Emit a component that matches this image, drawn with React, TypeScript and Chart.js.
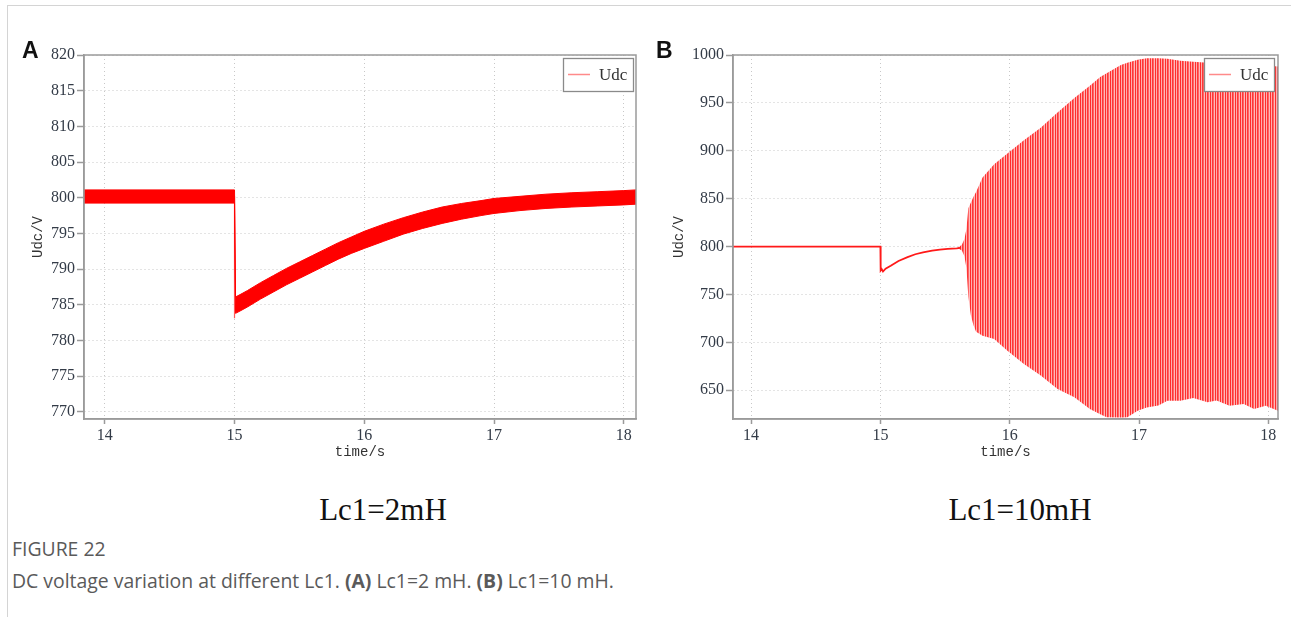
import React, { useEffect, useRef } from "react";
import { Chart, registerables } from "chart.js";

Chart.register(...registerables);

// ---------- shared ----------
const SERIES_LABEL = "Udc";
const X_TITLE = "time/s";
const Y_TITLE = "Udc/V";
const X_RANGE = [13.84, 18.094];
const X_RANGE_B = [13.86, 18.075];
const X_STEP = 1;

// ---------- panel A (Lc1 = 2 mH) ----------
const A_Y_RANGE = [769, 820];
const A_Y_STEP = 5;
const A_TIME = [13.84, 15.0, 15.008, 15.05, 15.1, 15.2, 15.3, 15.4, 15.5, 15.6, 15.7, 15.8, 15.9, 16.0, 16.15, 16.3, 16.45, 16.6, 16.75, 16.9, 17.0, 17.2, 17.4, 17.6, 17.8, 18.0, 18.094];
const A_UPPER = [801.1, 801.1, 786.1, 786.5, 787.0, 788.1, 789.1, 790.1, 791.0, 791.9, 792.8, 793.7, 794.5, 795.3, 796.3, 797.2, 798.0, 798.7, 799.2, 799.6, 799.9, 800.2, 800.5, 800.7, 800.85, 801.0, 801.1];
const A_LOWER = [799.25, 799.25, 783.8, 784.2, 784.7, 785.8, 786.8, 787.8, 788.7, 789.6, 790.5, 791.4, 792.2, 792.9, 793.9, 794.9, 795.7, 796.4, 797.0, 797.5, 797.8, 798.2, 798.5, 798.7, 798.85, 799.0, 799.1];
const A_DROP_TIME = [15.0, 15.0];
const A_DROP_VALUE = [800.2, 783.1];

// ---------- panel B (Lc1 = 10 mH) ----------
const B_Y_RANGE = [620, 1000];
const B_Y_STEP = 50;
const B_PRE_TIME = [13.86, 15.0, 15.002, 15.01, 15.02, 15.04, 15.08, 15.14, 15.21, 15.27, 15.33, 15.4, 15.46, 15.52, 15.59, 15.62];
const B_PRE_VALUE = [800, 800, 775, 776.5, 774, 777, 780, 785, 789, 792, 794, 795.8, 796.9, 797.7, 798.2, 798.6];
const B_OSC_TIME = [15.6, 15.63, 15.65, 15.665, 15.68, 15.7, 15.72, 15.74, 15.79, 15.88, 15.98, 16.11, 16.24, 16.37, 16.5, 16.62, 16.7, 16.75, 16.86, 16.91, 16.99, 17.06, 17.15, 17.22, 17.32, 17.42, 17.53, 17.6, 17.7, 17.81, 17.89, 17.98, 18.075];
const B_OSC_UPPER = [799, 802, 808, 818, 840, 846, 852, 857, 872, 886, 897, 911, 924, 940, 955, 968, 977, 981, 989.5, 992, 995, 996.5, 996.5, 996, 994, 993, 992, 992, 991, 990, 990, 989, 988];
const B_OSC_LOWER = [798, 796, 790, 778, 748, 728, 718, 711, 707, 703.6, 691.4, 677.5, 665.3, 651.3, 642.6, 630.4, 625, 621.7, 621.5, 621.7, 628.7, 632.1, 634, 639, 639, 641.9, 637.4, 639.4, 633.9, 635.6, 630.4, 633.9, 628.7];

// ---------- styles ----------
const SERIF = '"Liberation Serif", "Times New Roman", serif';
const MONO = '"Liberation Mono", "DejaVu Sans Mono", monospace';
const SANS = '"Open Sans", "Noto Sans", sans-serif';
const TICK_COLOR = "#333b47";
const GRID_COLOR = "#c8c8c8";
const AXIS_COLOR = "#9a9a9a";

const pts = (xs: number[], ys: number[]) => xs.map((x, i) => ({ x, y: ys[i] }));

const framePlugin = {
  id: "frame",
  afterDatasetsDraw(chart: any) {
    const { ctx, chartArea } = chart;
    ctx.save();
    ctx.strokeStyle = AXIS_COLOR;
    ctx.lineWidth = 1.5;
    ctx.strokeRect(chartArea.left, chartArea.top, chartArea.right - chartArea.left, chartArea.bottom - chartArea.top);
    ctx.restore();
  },
};

const boxLegend = {
  id: "boxLegend",
  afterDraw(chart: any, _args: any, opts: any) {
    const { ctx, chartArea } = chart;
    const w = 70;
    const h = 33;
    const x = Math.round(chartArea.right - opts.offsetRight - w);
    const y = Math.round(chartArea.top + 3);
    ctx.save();
    ctx.fillStyle = "#ffffff";
    ctx.fillRect(x, y, w, h);
    ctx.strokeStyle = "#8a8a8a";
    ctx.lineWidth = 1.3;
    ctx.strokeRect(x + 0.5, y + 0.5, w, h);
    ctx.strokeStyle = opts.color;
    ctx.lineWidth = 1.5;
    ctx.beginPath();
    ctx.moveTo(x + 5, y + h / 2);
    ctx.lineTo(x + 27, y + h / 2);
    ctx.stroke();
    ctx.fillStyle = "#333333";
    ctx.font = `17px ${SERIF}`;
    ctx.textBaseline = "middle";
    ctx.fillText(opts.text, x + 36, y + h / 2 + 1);
    ctx.restore();
  },
};

function makeScales(xRange: number[], yRange: number[], yStep: number, yWidth: number, yTitlePad: number) {
  const grid = {
    color: GRID_COLOR,
    lineWidth: 1,
    borderDash: [1, 3],
    tickColor: AXIS_COLOR,
    tickWidth: 1.5,
    tickBorderDash: [],
  };
  const tickFont = { family: SERIF, size: 16 };
  return {
    x: {
      type: "linear",
      min: xRange[0],
      max: xRange[1],
      ticks: { stepSize: X_STEP, includeBounds: false, color: TICK_COLOR, font: tickFont, padding: 2, callback: (v: any) => String(v) },
      grid: { ...grid, tickLength: 5 },
      border: { display: true, color: AXIS_COLOR, width: 1.5, dash: [1, 3] },
      title: { display: true, text: X_TITLE, color: "#333", font: { family: MONO, size: 14 }, padding: { top: 0, bottom: 9 } },
      afterFit: (s: any) => {
        s.height = 51;
      },
    },
    y: {
      type: "linear",
      min: yRange[0],
      max: yRange[1],
      ticks: { stepSize: yStep, includeBounds: false, color: TICK_COLOR, font: tickFont, padding: 2, callback: (v: any) => String(v) },
      grid: { ...grid, tickLength: 7 },
      border: { display: true, color: AXIS_COLOR, width: 1.5, dash: [1, 3] },
      title: { display: true, text: Y_TITLE, color: "#333", font: { family: MONO, size: 14 }, padding: { top: yTitlePad, bottom: 0 } },
      afterFit: (s: any) => {
        s.width = yWidth;
      },
    },
  };
}

function makeStripePattern(): CanvasPattern | string {
  const c = document.createElement("canvas");
  c.width = 5;
  c.height = 1;
  const g = c.getContext("2d");
  if (!g) return "rgba(255,90,90,1)";
  const cols = ["rgb(255,45,45)", "rgb(255,175,175)", "rgb(255,55,55)", "rgb(255,100,100)", "rgb(255,185,185)"];
  cols.forEach((col, i) => {
    g.fillStyle = col;
    g.fillRect(i, 0, 1, 1);
  });
  const p = g.createPattern(c, "repeat");
  return p || "rgba(255,90,90,1)";
}

function ChartA() {
  const ref = useRef<HTMLCanvasElement | null>(null);
  useEffect(() => {
    if (!ref.current) return;
    const chart = new Chart(ref.current, {
      type: "line",
      data: {
        datasets: [
          { label: SERIES_LABEL, data: pts(A_TIME, A_UPPER), borderColor: "#ff0000", borderWidth: 1, pointRadius: 0, fill: false, tension: 0 },
          { label: SERIES_LABEL + " lower", data: pts(A_TIME, A_LOWER), borderColor: "#ff0000", borderWidth: 1, pointRadius: 0, fill: "-1", backgroundColor: "#ff0000", tension: 0 },
          { label: SERIES_LABEL + " step", data: pts(A_DROP_TIME, A_DROP_VALUE), borderColor: "#ff5a5a", borderWidth: 1.2, pointRadius: 0, fill: false },
        ],
      } as any,
      options: {
        animation: false,
        responsive: false,
        events: [],
        layout: { padding: { top: 55, right: 14, left: 0, bottom: 0 } },
        plugins: {
          legend: { display: false },
          tooltip: { enabled: false },
          boxLegend: { text: SERIES_LABEL, color: "#ff8a8a", offsetRight: 3 },
        } as any,
        scales: makeScales(X_RANGE, A_Y_RANGE, A_Y_STEP, 84, 30) as any,
      },
      plugins: [framePlugin, boxLegend],
    });
    return () => chart.destroy();
  }, []);
  return <canvas ref={ref} width={650} height={470} style={{ position: "absolute", left: 0, top: 0, width: 650, height: 470 }} />;
}

function ChartB() {
  const ref = useRef<HTMLCanvasElement | null>(null);
  useEffect(() => {
    if (!ref.current) return;
    const stripes = makeStripePattern();
    const chart = new Chart(ref.current, {
      type: "line",
      data: {
        datasets: [
          { label: SERIES_LABEL, data: pts(B_PRE_TIME, B_PRE_VALUE), borderColor: "rgb(255,25,25)", borderWidth: 1.8, pointRadius: 0, fill: false, tension: 0 },
          { label: SERIES_LABEL + " upper", data: pts(B_OSC_TIME, B_OSC_UPPER), borderColor: "rgba(0,0,0,0)", borderWidth: 1, pointRadius: 0, fill: false, tension: 0 },
          { label: SERIES_LABEL + " lower", data: pts(B_OSC_TIME, B_OSC_LOWER), borderColor: "rgba(0,0,0,0)", borderWidth: 1, pointRadius: 0, fill: "-1", backgroundColor: stripes, tension: 0 },
        ],
      } as any,
      options: {
        animation: false,
        responsive: false,
        events: [],
        layout: { padding: { top: 55, right: 13, left: 0, bottom: 0 } },
        plugins: {
          legend: { display: false },
          tooltip: { enabled: false },
          boxLegend: { text: SERIES_LABEL, color: "#ff8a8a", offsetRight: 4 },
        } as any,
        scales: makeScales(X_RANGE_B, B_Y_RANGE, B_Y_STEP, 83, 21) as any,
      },
      plugins: [framePlugin, boxLegend],
    });
    return () => chart.destroy();
  }, []);
  return <canvas ref={ref} width={641} height={470} style={{ position: "absolute", left: 650, top: 0, width: 641, height: 470 }} />;
}

const panelLetter: React.CSSProperties = {
  position: "absolute",
  fontFamily: '"Liberation Sans", Arial, sans-serif',
  fontWeight: 700,
  fontSize: 23,
  lineHeight: "23px",
  color: "#111",
};

const subTitle: React.CSSProperties = {
  position: "absolute",
  fontFamily: SERIF,
  fontSize: 31,
  lineHeight: "31px",
  color: "#111",
  whiteSpace: "nowrap",
  transform: "translateX(-50%)",
};

const caption: React.CSSProperties = {
  position: "absolute",
  left: 12,
  fontFamily: SANS,
  fontSize: 19.4,
  lineHeight: "24px",
  color: "#5a5a5a",
  whiteSpace: "nowrap",
};

export default function App() {
  return (
    <div style={{ position: "absolute", left: 0, top: 0, width: 1291, height: 617, background: "#fff", overflow: "hidden" }}>
      <div style={{ position: "absolute", left: 7, top: 5, width: 1300, height: 700, borderLeft: "1px solid #d4d4d4", borderTop: "1px solid #d4d4d4" }} />
      <ChartA />
      <ChartB />
      <div style={{ ...panelLetter, left: 22, top: 39 }}>A</div>
      <div style={{ ...panelLetter, left: 656, top: 39 }}>B</div>
      <div style={{ ...subTitle, left: 383, top: 494 }}>Lc1=2mH</div>
      <div style={{ ...subTitle, left: 1020, top: 494 }}>Lc1=10mH</div>
      <div style={{ ...caption, top: 537 }}>FIGURE 22</div>
      <div style={{ ...caption, top: 569 }}>
        DC voltage variation at different Lc1. <b>(A)</b> Lc1=2 mH. <b>(B)</b> Lc1=10 mH.
      </div>
    </div>
  );
}
